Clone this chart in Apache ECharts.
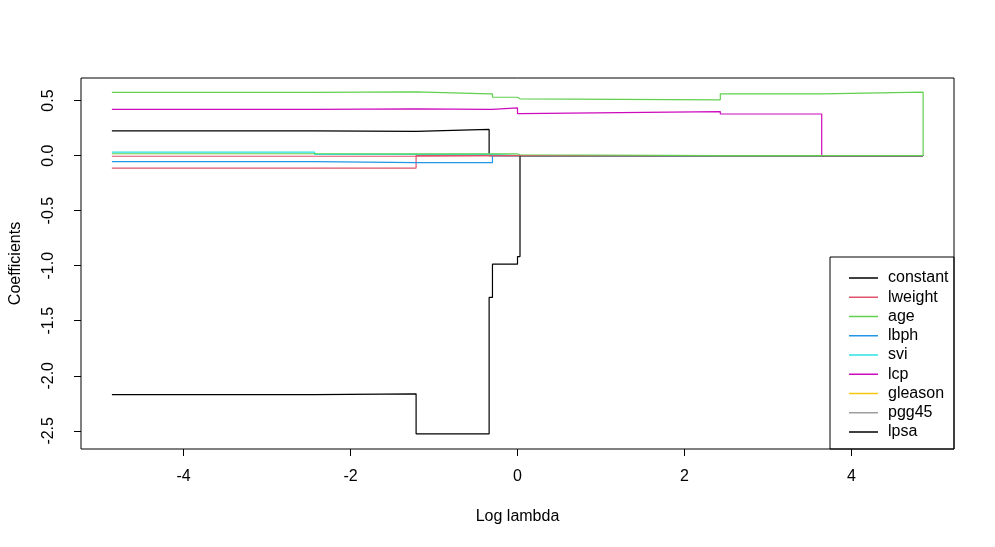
<!DOCTYPE html>
<html style="height: 100%">
<head>
<meta charset="utf-8">
<script src="https://cdn.jsdelivr.net/npm/echarts@6/dist/echarts.min.js"></script>
</head>
<body style="height: 100%; margin: 0; background: #fff">
<div id="container" style="width: 995px; height: 547px"></div>
<script type="text/javascript">
// log lambda breakpoints of the step path
var logLambda = [-4.86, -2.43, -1.215, -0.34, -0.30, 0.0, 0.03, 2.43, 3.645, 4.86];

// coefficient paths (value held from each breakpoint to the next)
var constant = [0.225, 0.221, 0.238, 0, 0, 0, 0, 0, 0, 0];
var lweight  = [-0.113, -0.113, 0, 0, 0, 0, 0, 0, 0, 0];
var age      = [0.575, 0.579, 0.561, 0.561, 0.530, 0.516, 0.507, 0.561, 0.576, 0];
var lbph     = [-0.055, -0.064, -0.064, -0.064, 0, 0, 0, 0, 0, 0];
var svi      = [0.032, 0.011, 0.011, 0.011, 0, 0, 0, 0, 0, 0];
var lcp      = [0.420, 0.424, 0.420, 0.420, 0.434, 0.382, 0.400, 0.378, 0, 0];
var gleason  = [-2.171, -2.164, -2.527, -1.288, -0.986, -0.917, 0, 0, 0, 0];
var pgg45    = [-0.006, -0.004, 0, 0, 0, 0, 0, 0, 0, 0];
var lpsa     = [0.017, 0.015, 0.015, 0.015, 0.015, 0.008, 0, 0, 0, 0];

var names = ['constant', 'lweight', 'age', 'lbph', 'svi', 'lcp', 'gleason', 'pgg45', 'lpsa'];
var paths = [constant, lweight, age, lbph, svi, lcp, gleason, pgg45, lpsa];
// lines cycle through 6 colours, the legend uses 9
var lineColors = ['#000000', '#DF536B', '#61D04F', '#2297E6', '#28E2E5', '#CD0BBC', '#000000', '#DF536B', '#61D04F'];
var legendColors = ['#000000', '#DF536B', '#61D04F', '#2297E6', '#28E2E5', '#CD0BBC', '#F5C710', '#9E9E9E', '#000000'];

var xTicks = [-4, -2, 0, 2, 4];
var yTicks = [0.5, 0, -0.5, -1, -1.5, -2, -2.5];

var FONT = 'Liberation Sans, Arial, sans-serif';

var series = [];
var legendData = [];
for (var i = 0; i < names.length; i++) {
    var d = [];
    for (var k = 0; k < logLambda.length; k++) {
        d.push([logLambda[k], paths[i][k]]);
    }
    series.push({
        name: names[i],
        type: 'line',
        step: 'end',
        symbol: 'none',
        silent: true,
        lineStyle: { color: lineColors[i], width: 1.2 },
        itemStyle: { color: lineColors[i] },
        data: d
    });
    legendData.push({ name: names[i], itemStyle: { color: legendColors[i] } });
}

var myChart = echarts.init(document.getElementById('container'));
var option = {
    animation: false,
    backgroundColor: '#ffffff',
    grid: {
        left: 79, right: 41, top: 78, bottom: 98,
        show: true, borderColor: '#000', borderWidth: 1, backgroundColor: 'transparent'
    },
    xAxis: {
        type: 'value',
        min: -5.23, max: 5.23,
        name: 'Log lambda',
        nameLocation: 'middle',
        nameGap: 60,
        nameTextStyle: { fontFamily: FONT, fontSize: 16, color: '#000' },
        axisLine: { show: false, onZero: false },
        splitLine: { show: false },
        axisTick: { show: true, length: 7, lineStyle: { color: '#000' }, customValues: xTicks },
        axisLabel: { fontFamily: FONT, fontSize: 16, color: '#000', margin: 20, customValues: xTicks }
    },
    yAxis: {
        type: 'value',
        min: -2.665, max: 0.705,
        name: 'Coefficients',
        nameLocation: 'middle',
        nameRotate: 90,
        nameGap: 57,
        nameTextStyle: { fontFamily: FONT, fontSize: 16, color: '#000' },
        axisLine: { show: false, onZero: false },
        splitLine: { show: false },
        axisTick: { show: true, length: 7, lineStyle: { color: '#000' }, customValues: yTicks },
        axisLabel: {
            fontFamily: FONT, fontSize: 16, color: '#000', margin: 24, rotate: 90,
            customValues: yTicks,
            formatter: function (v) { return v.toFixed(1); }
        }
    },
    legend: {
        orient: 'vertical',
        left: 844, top: 265,
        itemWidth: 29, itemHeight: 1.5,
        itemGap: 3.25,
        icon: 'rect',
        selectedMode: false,
        textStyle: { fontFamily: FONT, fontSize: 16, color: '#000', lineHeight: 16, padding: [0, 0, 0, 5] },
        data: legendData
    },
    graphic: [{
        type: 'rect',
        shape: { x: 830, y: 257, width: 124, height: 192 },
        style: { fill: 'transparent', stroke: '#000', lineWidth: 1 },
        z: 10
    }],
    series: series
};
myChart.setOption(option);
</script>
</body>
</html>
